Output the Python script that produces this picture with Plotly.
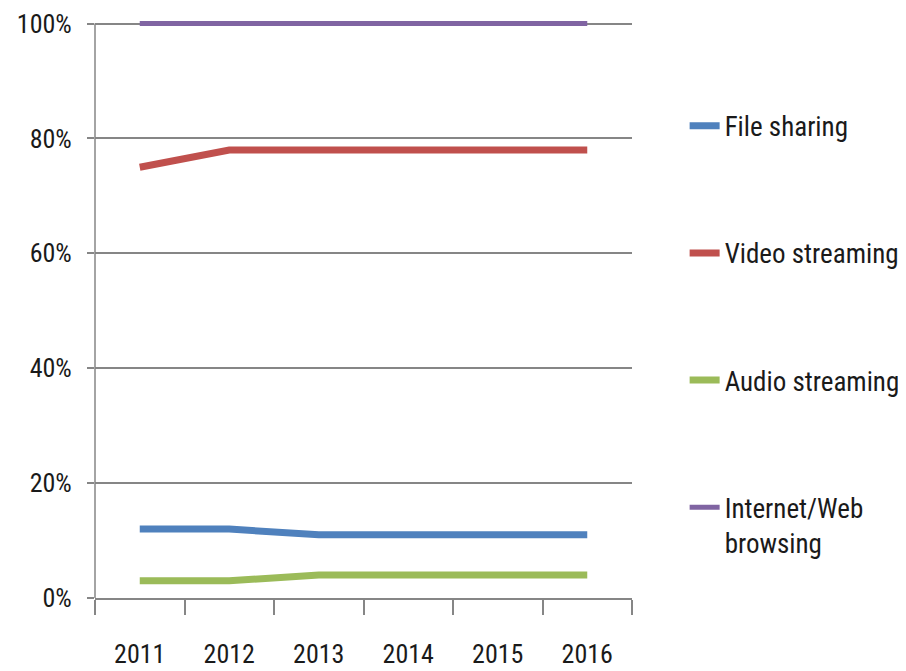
import plotly.graph_objects as go

years = ['2011', '2012', '2013', '2014', '2015', '2016']
file_sharing = [0.12, 0.12, 0.11, 0.11, 0.11, 0.11]
video_streaming = [0.75, 0.78, 0.78, 0.78, 0.78, 0.78]
audio_streaming = [0.03, 0.03, 0.04, 0.04, 0.04, 0.04]
web_browsing = [1.00, 1.00, 1.00, 1.00, 1.00, 1.00]

series = [
    ('File sharing', file_sharing, '#4F81BD', 7),
    ('Video streaming', video_streaming, '#C0504D', 7),
    ('Audio streaming', audio_streaming, '#9BBB59', 7),
    ('Internet/Web<br>browsing', web_browsing, '#8064A2', 5),
]

FONT = 'Roboto Condensed, Liberation Sans Narrow, DejaVu Sans Condensed, Roboto, sans-serif'
GRID = '#868686'
YTOP = 1.008  # a little headroom so the 100% line is not clipped

fig = go.Figure()
for i, (name, vals, color, w) in enumerate(series):
    fig.add_trace(go.Scatter(
        x=years, y=vals, name=name, mode='lines',
        line=dict(color=color, width=w),
        legendgroup=str(i),
    ))

# left axis line only up to 100%
fig.add_shape(type='line', xref='paper', yref='y', x0=0, x1=0, y0=0, y1=1,
              line=dict(color=GRID, width=1.5), layer='below')

fig.update_layout(
    width=906, height=671,
    margin=dict(l=87, r=282, t=11, b=81, autoexpand=False),
    paper_bgcolor='white', plot_bgcolor='white',
    font=dict(family=FONT, size=26, color='#1a1a1a'),
    showlegend=True,
    legend=dict(
        x=1.098, xanchor='left', y=0.857, yanchor='top',
        traceorder='grouped', tracegroupgap=89,
        valign='top', bgcolor='rgba(0,0,0,0)',
        font=dict(family=FONT, size=27, color='#1a1a1a'),
    ),
    xaxis=dict(
        type='category', range=[-0.5, 5.5], automargin=False,
        tickson='boundaries', ticks='outside', ticklen=15, tickcolor=GRID,
        tickwidth=1.5, showgrid=False, showline=True, linecolor=GRID,
        linewidth=1.5, ticklabelstandoff=32,
    ),
    yaxis=dict(
        range=[0, YTOP], tickvals=[0, 0.2, 0.4, 0.6, 0.8, 1.0], automargin=False,
        tickformat='.0%', ticks='outside', ticklen=7, tickcolor=GRID,
        tickwidth=1.5, showgrid=True, gridcolor=GRID, gridwidth=1.5,
        showline=False, zeroline=False, ticklabelstandoff=10,
    ),
)

fig.write_html("out.html")
